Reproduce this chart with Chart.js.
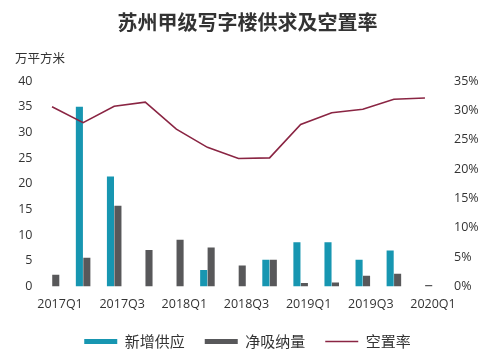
<!DOCTYPE html>
<html>
<head>
<meta charset="utf-8">
<script src="https://cdn.jsdelivr.net/npm/chart.js@4"></script>
<style>
html,body{margin:0;padding:0;background:#fff;}
#wrap{width:500px;height:359px;position:relative;}
</style>
</head>
<body>
<div id="wrap"><canvas id="c"></canvas></div>
<script>
const categories = ['2017Q1','2017Q2','2017Q3','2017Q4','2018Q1','2018Q2','2018Q3','2018Q4','2019Q1','2019Q2','2019Q3','2019Q4','2020Q1'];
const newSupply = [null, 35.0, 21.4, null, null, 3.2, null, 5.2, 8.6, 8.6, 5.2, 7.0, null];
const netAbsorption = [2.3, 5.6, 15.7, 7.1, 9.1, 7.6, 4.1, 5.2, 0.7, 0.8, 2.1, 2.5, 0.3];
const vacancyRate = [30.6, 27.9, 30.7, 31.4, 26.8, 23.7, 21.8, 21.9, 27.6, 29.6, 30.2, 31.9, 32.1];
const leftTicks = [0, 40, 5];
const rightTicks = [0, 35, 5];

const TEAL = '#1796b1';
const GREY = '#58585a';
const RED = '#8a2543';
const TXT = '#333333';
const LATIN = '"Open Sans", "Noto Sans CJK SC", sans-serif';
const CJK = '"Noto Sans CJK SC", sans-serif';

const unitLabel = {
  id: 'unitLabel',
  afterDraw(chart) {
    const ctx = chart.ctx;
    ctx.save();
    ctx.font = '12.5px ' + CJK;
    ctx.fillStyle = TXT;
    ctx.textAlign = 'left';
    ctx.textBaseline = 'middle';
    ctx.fillText('万平方米', 15, 58);
    ctx.restore();
  }
};

new Chart(document.getElementById('c'), {
  type: 'bar',
  data: {
    labels: categories,
    datasets: [
      { label: '新增供应', data: newSupply, backgroundColor: TEAL, borderWidth: 0, yAxisID: 'y', order: 1,
        categoryPercentage: 0.48, barPercentage: 0.95 },
      { label: '净吸纳量', data: netAbsorption, backgroundColor: GREY, borderWidth: 0, yAxisID: 'y', order: 1,
        categoryPercentage: 0.48, barPercentage: 0.95 },
      { type: 'line', label: '空置率', data: vacancyRate, borderColor: RED, backgroundColor: RED,
        borderWidth: 1.6, pointRadius: 0, tension: 0, yAxisID: 'y1', order: 0 }
    ]
  },
  options: {
    responsive: true,
    maintainAspectRatio: false,
    animation: false,
    layout: { padding: { left: 15, right: 20, top: 0, bottom: 0 } },
    plugins: {
      title: {
        display: true,
        text: '苏州甲级写字楼供求及空置率',
        color: TXT,
        font: { family: CJK, size: 20, weight: 'bold' },
        padding: { top: 10, bottom: 47 }
      },
      legend: {
        position: 'bottom',
        labels: {
          usePointStyle: true,
          pointStyleWidth: 33,
          boxHeight: 5,
          padding: 20,
          color: TXT,
          font: { family: CJK, size: 15 },
          generateLabels(chart) {
            return chart.data.datasets.map((ds, i) => ({
              text: ds.label,
              fillStyle: i === 2 ? RED : ds.backgroundColor,
              strokeStyle: i === 2 ? RED : ds.backgroundColor,
              lineWidth: i === 2 ? 1.5 : 0,
              pointStyle: i === 2 ? 'line' : 'rect',
              fontColor: TXT,
              hidden: false,
              datasetIndex: i
            }));
          }
        }
      },
      tooltip: { enabled: false }
    },
    scales: {
      x: {
        grid: { display: false },
        border: { display: false },
        ticks: {
          autoSkip: false,
          maxRotation: 0,
          minRotation: 0,
          labelOffset: 8,
          padding: 2,
          color: TXT,
          font: { family: LATIN, size: 12.5 },
          callback: (v, i) => (i % 2 === 0 ? categories[i] : '')
        },
        afterFit(scale) { scale.height = 27.5; }
      },
      y: {
        position: 'left',
        min: leftTicks[0], max: leftTicks[1],
        grid: { display: false, drawTicks: false },
        border: { display: false },
        ticks: { stepSize: leftTicks[2], padding: 4, color: TXT, font: { family: LATIN, size: 12.5 } },
        afterFit(scale) { scale.width = 21.5; }
      },
      y1: {
        position: 'right',
        min: rightTicks[0], max: rightTicks[1],
        grid: { display: false, drawTicks: false },
        border: { display: false },
        ticks: { stepSize: rightTicks[2], padding: 13.5, color: TXT, font: { family: LATIN, size: 12.5 },
          callback: v => v + '%' },
        afterFit(scale) { scale.width = 39.5; }
      }
    }
  },
  plugins: [unitLabel]
});
</script>
</body>
</html>
